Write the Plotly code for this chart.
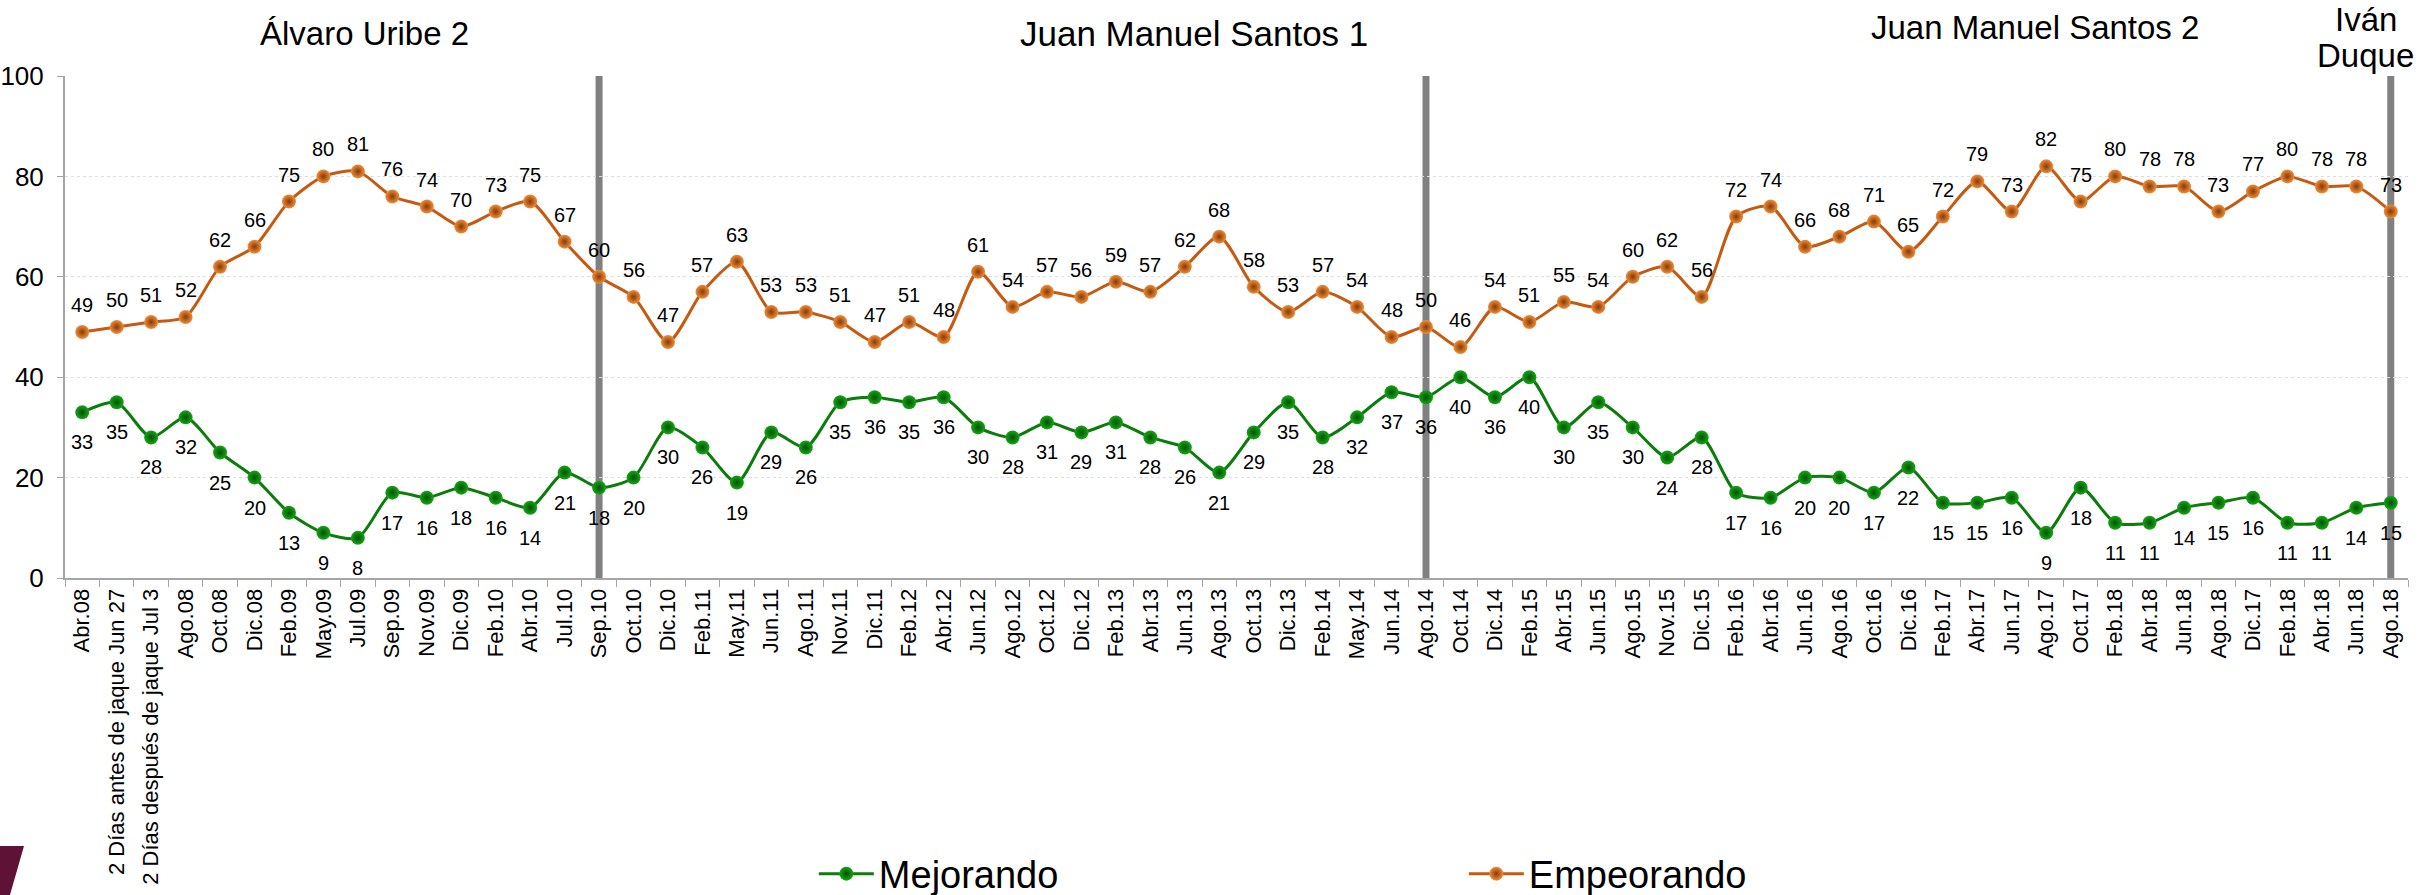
import plotly.graph_objects as go

# ── Data ─────────────────────────────────────────────────────────────────────
labels = [
    "Abr.08", "2 Días antes de jaque Jun 27", "2 Días después de jaque Jul 3",
    "Ago.08", "Oct.08", "Dic.08", "Feb.09", "May.09", "Jul.09", "Sep.09",
    "Nov.09", "Dic.09", "Feb.10", "Abr.10", "Jul.10", "Sep.10", "Oct.10",
    "Dic.10", "Feb.11", "May.11", "Jun.11", "Ago.11", "Nov.11", "Dic.11",
    "Feb.12", "Abr.12", "Jun.12", "Ago.12", "Oct.12", "Dic.12", "Feb.13",
    "Abr.13", "Jun.13", "Ago.13", "Oct.13", "Dic.13", "Feb.14", "May.14",
    "Jun.14", "Ago.14", "Oct.14", "Dic.14", "Feb.15", "Abr.15", "Jun.15",
    "Ago.15", "Nov.15", "Dic.15", "Feb.16", "Abr.16", "Jun.16", "Ago.16",
    "Oct.16", "Dic.16", "Feb.17", "Abr.17", "Jun.17", "Ago.17", "Oct.17",
    "Feb.18", "Abr.18", "Jun.18", "Ago.18", "Dic.17", "Feb.18", "Abr.18",
    "Jun.18", "Ago.18",
]

mejorando = [
    33, 35, 28, 32, 25, 20, 13, 9, 8, 17,
    16, 18, 16, 14, 21, 18, 20, 30, 26, 19,
    29, 26, 35, 36, 35, 36, 30, 28, 31, 29,
    31, 28, 26, 21, 29, 35, 28, 32, 37, 36,
    40, 36, 40, 30, 35, 30, 24, 28, 17, 16,
    20, 20, 17, 22, 15, 15, 16, 9, 18, 11,
    11, 14, 15, 16, 11, 11, 14, 15,
]

empeorando = [
    49, 50, 51, 52, 62, 66, 75, 80, 81, 76,
    74, 70, 73, 75, 67, 60, 56, 47, 57, 63,
    53, 53, 51, 47, 51, 48, 61, 54, 57, 56,
    59, 57, 62, 68, 58, 53, 57, 54, 48, 50,
    46, 54, 51, 55, 54, 60, 62, 56, 72, 74,
    66, 68, 71, 65, 72, 79, 73, 82, 75, 80,
    78, 78, 73, 77, 80, 78, 78, 73,
]

# change of government (index in labels)
period_breaks = [labels.index("Sep.10"), labels.index("Ago.14"), len(labels) - 1]
periods = ["Álvaro Uribe 2", "Juan Manuel Santos 1", "Juan Manuel Santos 2", "Iván", "Duque"]

x = list(range(len(labels)))
FONT = "Arial, Liberation Sans, sans-serif"

fig = go.Figure()

fig.add_trace(go.Scatter(
    x=x, y=mejorando, name="Mejorando",
    mode="lines+markers",
    line=dict(color="#0B7D0B", width=3, shape="spline", smoothing=0.7),
    marker=dict(size=14, color="#18A418",
                gradient=dict(type="radial", color="#005400"),
                line=dict(width=0)),
    hovertemplate="%{y}<extra>Mejorando</extra>",
))

fig.add_trace(go.Scatter(
    x=x, y=empeorando, name="Empeorando",
    mode="lines+markers",
    line=dict(color="#C55A11", width=3, shape="spline", smoothing=0.7),
    marker=dict(size=14, color="#EE8E3E",
                gradient=dict(type="radial", color="#8A3A00"),
                line=dict(width=0)),
    hovertemplate="%{y}<extra>Empeorando</extra>",
))

# ── Data labels (Excel-style, a bit away from the markers) ───────────────────
for xi, v in zip(x, mejorando):
    fig.add_annotation(x=xi, y=v, text=str(v), showarrow=False, yshift=-30,
                       font=dict(family=FONT, size=20, color="#000000"))
for xi, v in zip(x, empeorando):
    fig.add_annotation(x=xi, y=v, text=str(v), showarrow=False, yshift=27,
                       font=dict(family=FONT, size=20, color="#000000"))

# ── Period separators ────────────────────────────────────────────────────────
for b in period_breaks:
    fig.add_shape(type="line", xref="x", yref="y", x0=b, x1=b, y0=-1, y1=100,
                  line=dict(color="#808080", width=7), layer="below")

# ── Period titles ────────────────────────────────────────────────────────────
title_pos = [(0.128, 1.084, 33), (0.482, 1.084, 35), (0.841, 1.096, 33),
             (0.982, 1.113, 33), (0.982, 1.040, 33)]
for txt, (px, py, fs) in zip(periods, title_pos):
    fig.add_annotation(text=txt, xref="paper", yref="paper", x=px, y=py,
                       showarrow=False, xanchor="center", yanchor="middle",
                       font=dict(family=FONT, size=fs, color="#000000"))

# decorative corner mark
fig.add_shape(type="path", xref="paper", yref="paper",
              path="M -0.0278,-0.534 L -0.0175,-0.534 L -0.0235,-0.6315 L -0.0278,-0.6315 Z",
              fillcolor="#5E1236", line=dict(width=0))

fig.update_layout(
    width=2433, height=895,
    margin=dict(l=65, r=25, t=76, b=317),
    plot_bgcolor="#FFFFFF", paper_bgcolor="#FFFFFF",
    font=dict(family=FONT, size=22, color="#000000"),
    showlegend=True,
    legend=dict(
        orientation="h", xref="container", yref="container",
        x=0.3345, xanchor="left", y=0.0235, yanchor="middle",
        font=dict(family=FONT, size=38, color="#000000"),
        itemwidth=55, entrywidth=580, entrywidthmode="pixels",
        bgcolor="rgba(0,0,0,0)",
    ),
    xaxis=dict(
        range=[-0.5, len(labels) - 0.5], automargin=False,
        tickmode="array", tickvals=x, ticktext=labels, tickangle=-90,
        ticks="", showgrid=False, zeroline=False,
        showline=True, linecolor="#A6A6A6", linewidth=2,
        tickfont=dict(family=FONT, size=22, color="#000000"),
        minor=dict(ticks="outside", tick0=-0.5, dtick=1, ticklen=7,
                   tickcolor="#A6A6A6", tickwidth=1, showgrid=False),
    ),
    yaxis=dict(
        range=[0, 100], tickvals=[0, 20, 40, 60, 80, 100], automargin=False,
        showgrid=True, gridcolor="#DDDDDD", gridwidth=1, griddash="dot",
        zeroline=False, showline=True, linecolor="#A6A6A6", linewidth=2,
        ticks="outside", ticklen=6, tickcolor="#A6A6A6", ticklabelstandoff=8,
        tickfont=dict(family=FONT, size=26, color="#000000"),
    ),
)

# drop the browser's default 8px body margin so the figure fills the window
fig.write_html("out.html", config={"displayModeBar": False},
               post_script="document.body.style.margin = '0';")
